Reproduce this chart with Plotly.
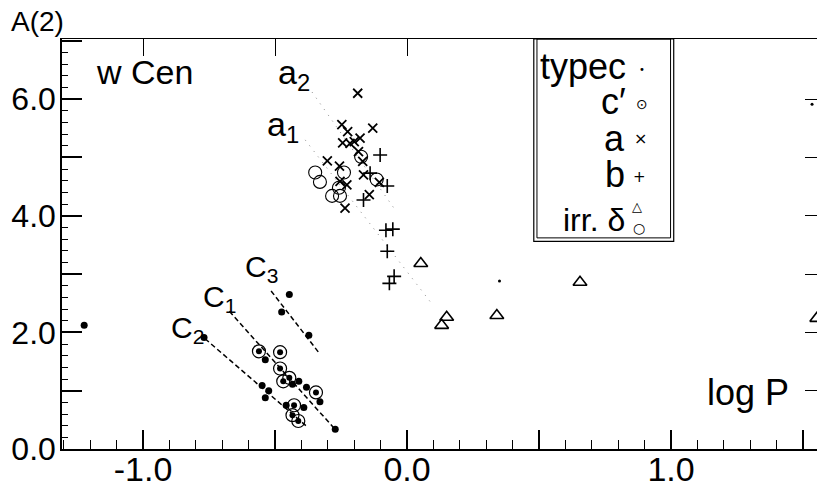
import plotly.graph_objects as go

# ---- data (log P, A(2)) ----
c_logp = [-1.223, -0.446, -0.475, -0.372, -0.769, -0.537, -0.434, -0.410, -0.381,
          -0.330, -0.549, -0.524, -0.537, -0.458, -0.391, -0.272]
c_amp = [2.12, 2.65, 2.35, 1.95, 1.91, 1.53, 1.11, 1.16, 1.06,
         0.81, 1.09, 1.00, 0.88, 0.75, 0.71, 0.34]
c_small_logp = [0.350, 1.534]
c_small_amp = [2.88, 5.91]

cp_logp = [-0.561, -0.481, -0.481, -0.446, -0.469, -0.345, -0.428, -0.434, -0.412]
cp_amp = [1.675, 1.66, 1.38, 1.22, 1.16, 0.97, 0.75, 0.58, 0.48]

a_logp = [-0.187, -0.247, -0.225, -0.130, -0.244, -0.216, -0.178, -0.184, -0.168,
          -0.302, -0.256, -0.254, -0.228, -0.235, -0.143, -0.165, -0.105, -0.200]
a_amp = [6.10, 5.56, 5.44, 5.50, 5.25, 5.24, 5.33, 5.10, 4.93,
         4.94, 4.85, 4.59, 4.53, 4.13, 4.36, 4.70, 4.57, 5.27]

b_logp = [-0.102, -0.165, -0.140, -0.075, -0.080, -0.054, -0.075, -0.049, -0.067]
b_amp = [5.04, 4.27, 4.73, 4.51, 3.75, 3.77, 3.39, 2.96, 2.84]

delta_logp = [0.052, 0.655, 0.150, 0.131, 0.340, 1.552]
delta_amp = [3.18, 2.86, 2.26, 2.12, 2.29, 2.24]

irr_logp = [-0.348, -0.330, -0.239, -0.258, -0.284, -0.254, -0.174, -0.115]
irr_amp = [4.74, 4.58, 4.74, 4.48, 4.34, 4.34, 5.01, 4.62]

# sequence lines (dashed: c1, c2, c3 ; dotted: a1, a2)
seq_c = {
    "c3": ([-0.515, -0.332], [2.71, 1.64]),
    "c1": ([-0.673, -0.279], [2.36, 0.37]),
    "c2": ([-0.765, -0.383], [1.89, 0.40]),
}
seq_a = {
    "a1": ([-0.386, 0.087], [5.30, 2.53]),
    "a2": ([-0.360, -0.045], [6.12, 4.10]),
}

x_range = [-1.307, 1.583]
y_range = [0.0, 7.03]
y_tickvals = [0, 1, 2, 3, 4, 5, 6, 7]
y_ticktext = ["0.0", " ", "2.0", " ", "4.0", " ", "6.0", " "]
x_tickvals = [-1.0, -0.5, 0.0, 0.5, 1.0, 1.5]
x_ticktext = ["-1.0", " ", "0.0", " ", "1.0", " "]

FONT = "Liberation Sans"
fig = go.Figure()

for name, (xs, ys) in seq_c.items():
    fig.add_trace(go.Scatter(x=xs, y=ys, mode="lines",
                             line=dict(color="black", width=1.5, dash="5px,3px"),
                             showlegend=False, hoverinfo="skip"))
for name, (xs, ys) in seq_a.items():
    fig.add_trace(go.Scatter(x=xs, y=ys, mode="lines",
                             line=dict(color="#888888", width=1, dash="1px,6px"),
                             showlegend=False, hoverinfo="skip"))

fig.add_trace(go.Scatter(x=c_logp, y=c_amp, mode="markers", name="c",
                         marker=dict(symbol="circle", size=7, color="black")))
fig.add_trace(go.Scatter(x=c_small_logp, y=c_small_amp, mode="markers", name="c",
                         marker=dict(symbol="circle", size=3, color="black"), showlegend=False))
fig.add_trace(go.Scatter(x=cp_logp, y=cp_amp, mode="markers", name="c'",
                         marker=dict(symbol="circle-open", size=13, color="black",
                                     line=dict(width=1.2, color="black"))))
fig.add_trace(go.Scatter(x=cp_logp, y=cp_amp, mode="markers", showlegend=False,
                         marker=dict(symbol="circle", size=6, color="black")))
fig.add_trace(go.Scatter(x=a_logp, y=a_amp, mode="markers", name="a",
                         marker=dict(symbol="x-thin-open", size=9, color="black",
                                     line=dict(width=1.8, color="black"))))
fig.add_trace(go.Scatter(x=b_logp, y=b_amp, mode="markers", name="b",
                         marker=dict(symbol="cross-thin-open", size=10, color="black",
                                     line=dict(width=1.6, color="black"))))
fig.add_trace(go.Scatter(x=delta_logp, y=delta_amp, mode="markers", name="δ",
                         marker=dict(symbol="triangle-up-open", size=12, color="black",
                                     line=dict(width=1.6, color="black"))))
fig.add_trace(go.Scatter(x=irr_logp, y=irr_amp, mode="markers", name="irr",
                         marker=dict(symbol="circle-open", size=13, color="black",
                                     line=dict(width=1.1, color="black"))))
# dummy trace for the top / right tick axes
fig.add_trace(go.Scatter(x=[None], y=[None], xaxis="x2", yaxis="y2",
                         showlegend=False, hoverinfo="skip"))

# legend box (double frame)
fig.add_shape(type="rect", x0=0.48, x1=1.01, y0=3.56, y1=7.03,
              line=dict(color="black", width=1.2), fillcolor="white", layer="below")
fig.add_shape(type="rect", x0=0.492, x1=0.998, y0=3.62, y1=7.03,
              line=dict(color="black", width=1))

ann = []
def txt(x, y, s, size=30, xanchor="center", yanchor="middle", xref="x", yref="y", font=FONT):
    ann.append(dict(x=x, y=y, xref=xref, yref=yref, text=s, showarrow=False,
                    xanchor=xanchor, yanchor=yanchor,
                    font=dict(family=font, size=size, color="black")))

txt(-0.069, 1.043, "A(2)", size=28, xref="paper", yref="paper", xanchor="left")
txt(-0.995, 6.46, "w Cen", size=34)
txt(-0.43, 6.42, "a<sub>2</sub>", size=34)
txt(-0.47, 5.53, "a<sub>1</sub>", size=34)
txt(-0.55, 3.10, "C<sub>3</sub>", size=30)
txt(-0.71, 2.58, "C<sub>1</sub>", size=30)
txt(-0.83, 2.05, "C<sub>2</sub>", size=30)
txt(1.29, 0.97, "log P", size=36)

# legend text
txt(0.838, 6.55, "typec", size=36, xanchor="right")
txt(0.888, 6.50, "•", size=10, font="DejaVu Sans")
txt(0.838, 5.95, "c′", size=36, xanchor="right")
txt(0.890, 5.91, "⊙", size=14, font="DejaVu Sans")
txt(0.834, 5.33, "a", size=36, xanchor="right")
txt(0.886, 5.32, "×", size=16, font="DejaVu Sans")
txt(0.834, 4.70, "b", size=36, xanchor="right")
txt(0.880, 4.67, "+", size=15, font="DejaVu Sans")
txt(0.834, 3.93, "irr. δ", size=32, xanchor="right")
txt(0.870, 4.15, "△", size=13, font="DejaVu Sans")
txt(0.880, 3.79, "○", size=14, font="DejaVu Sans")

# the page body adds an 8px offset, so margins are reduced accordingly
fig.update_layout(
    width=825, height=492,
    margin=dict(l=54, r=8, t=31, b=51, autoexpand=False),
    paper_bgcolor="white", plot_bgcolor="white",
    showlegend=False,
    annotations=ann,
    xaxis=dict(range=x_range, showgrid=False, zeroline=False, automargin=False,
               showline=True, linecolor="black", linewidth=1.5,
               ticks="inside", ticklen=19, tickwidth=1.5, tickcolor="black",
               tickvals=x_tickvals, ticktext=x_ticktext, ticklabelstandoff=-11,
               minor=dict(dtick=0.1, tick0=0, ticks="inside", ticklen=9,
                          tickwidth=1.3, tickcolor="black", showgrid=False),
               tickfont=dict(family=FONT, size=34, color="black")),
    yaxis=dict(range=y_range, showgrid=False, zeroline=False, automargin=False,
               showline=True, linecolor="black", linewidth=1.5,
               ticks="inside", ticklen=20, tickwidth=1.5, tickcolor="black",
               tickvals=y_tickvals, ticktext=y_ticktext, ticklabelstandoff=-2,
               minor=dict(dtick=0.2, tick0=0, ticks="inside", ticklen=6,
                          tickwidth=1.2, tickcolor="black", showgrid=False),
               tickfont=dict(family=FONT, size=32, color="black")),
    xaxis2=dict(overlaying="x", matches="x", side="top", showgrid=False,
                zeroline=False, showline=True, linecolor="black", linewidth=1.2,
                automargin=False,
                ticks="inside", ticklen=17, tickwidth=1.3, tickcolor="black",
                tickvals=[-1.0, -0.5, 0.0], showticklabels=False),
    yaxis2=dict(overlaying="y", matches="y", side="right", showgrid=False,
                zeroline=False, showline=False, automargin=False,
                ticks="inside", ticklen=20, tickwidth=1.3, tickcolor="black",
                tickvals=[1, 2, 3, 4, 5, 6], showticklabels=False),
)

fig.write_html("out.html")
